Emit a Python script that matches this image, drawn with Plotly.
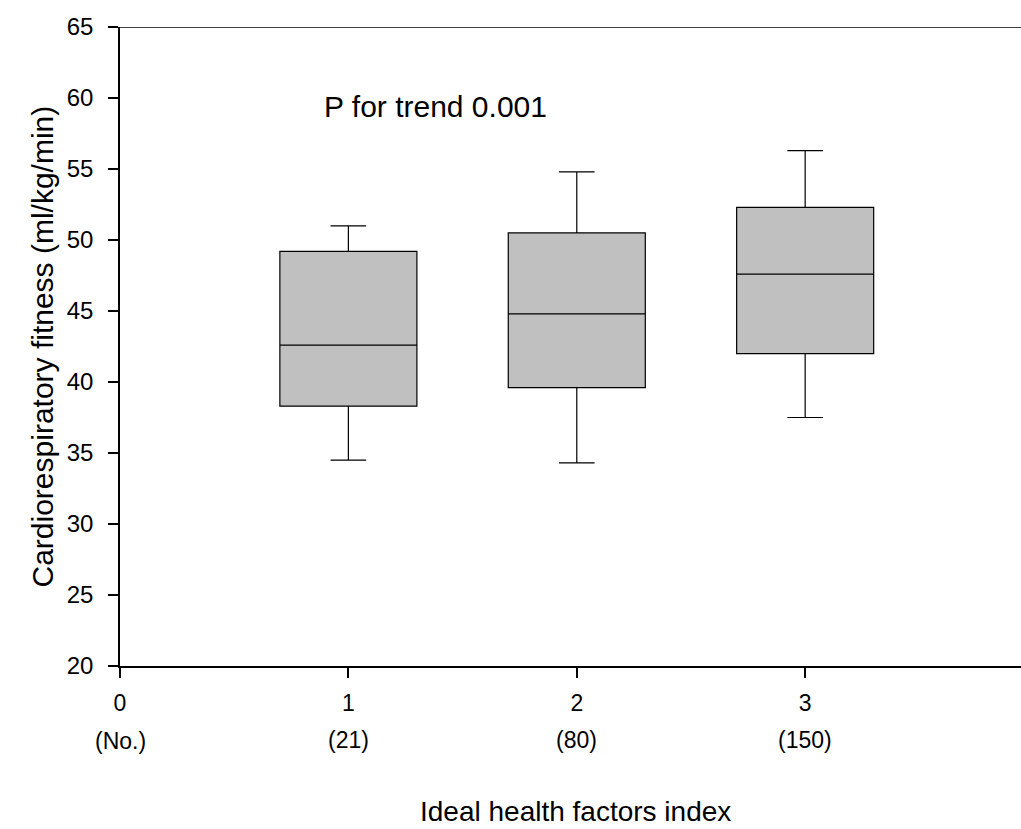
import plotly.graph_objects as go

# Ideal health factors index groups and cardiorespiratory fitness summaries
groups = [1, 2, 3]
n_labels = ["(21)", "(80)", "(150)"]
lower_whisker = [34.5, 34.3, 37.5]
q1 = [38.3, 39.6, 42.0]
median = [42.6, 44.8, 47.6]
q3 = [49.2, 50.5, 52.3]
upper_whisker = [51.0, 54.8, 56.3]

x_ticks = [0, 1, 2, 3]
y_ticks = [20, 25, 30, 35, 40, 45, 50, 55, 60, 65]

FONT = "Liberation Sans, Arial, sans-serif"

fig = go.Figure()
for g, lo, a, m, b, hi in zip(groups, lower_whisker, q1, median, q3, upper_whisker):
    fig.add_trace(go.Box(
        x=[g], q1=[a], median=[m], q3=[b],
        lowerfence=[lo], upperfence=[hi],
        width=0.6, whiskerwidth=0.26,
        fillcolor="#c0c0c0",
        line=dict(color="black", width=1.2),
        boxpoints=False, showlegend=False, hoverinfo="skip",
    ))

annotations = [
    dict(x=1.382, y=59.4, xref="x", yref="y", text="P for trend 0.001",
         showarrow=False, font=dict(size=30, color="black", family=FONT)),
    dict(x=0, y=0, xref="x", yref="paper", yshift=-75, yanchor="middle",
         text="(No.)", showarrow=False,
         font=dict(size=23, color="black", family=FONT)),
    dict(x=0.505, y=0, xref="paper", yref="paper", yshift=-145, yanchor="middle",
         text="Ideal health factors index", showarrow=False,
         font=dict(size=28, color="black", family=FONT)),
    dict(x=0, y=0.5, xref="paper", yref="paper", xshift=-78, xanchor="center",
         text="Cardiorespiratory fitness (ml/kg/min)", textangle=-90,
         showarrow=False, font=dict(size=30, color="black", family=FONT)),
]
for g, lab in zip(groups, n_labels):
    annotations.append(dict(x=g, y=0, xref="x", yref="paper", yshift=-74,
                            yanchor="middle", text=lab, showarrow=False,
                            font=dict(size=23, color="black", family=FONT)))

fig.update_layout(
    width=1021, height=829,
    margin=dict(l=120, r=0, t=27, b=163),
    paper_bgcolor="white", plot_bgcolor="white",
    font=dict(family=FONT, color="black", size=22),
    annotations=annotations,
    shapes=[dict(type="line", xref="paper", yref="y", x0=0, x1=1, y0=65, y1=65,
                 line=dict(color="black", width=1.5))],
    xaxis=dict(
        range=[0, 3.945], tickmode="array", tickvals=x_ticks,
        ticktext=[str(v) for v in x_ticks],
        ticks="outside", ticklen=10, tickwidth=1.5, tickcolor="black",
        ticklabelstandoff=6,
        showline=True, linecolor="black", linewidth=1.5,
        showgrid=False, zeroline=False,
        tickfont=dict(size=23, family=FONT, color="black"),
    ),
    yaxis=dict(
        range=[20, 65], tickmode="array", tickvals=y_ticks,
        ticktext=[str(v) for v in y_ticks],
        ticks="outside", ticklen=10, tickwidth=1.5, tickcolor="black",
        ticklabelstandoff=10,
        showline=True, linecolor="black", linewidth=1.5,
        showgrid=False, zeroline=False,
        tickfont=dict(size=24, family=FONT, color="black"),
    ),
)

fig.write_html("out.html")
